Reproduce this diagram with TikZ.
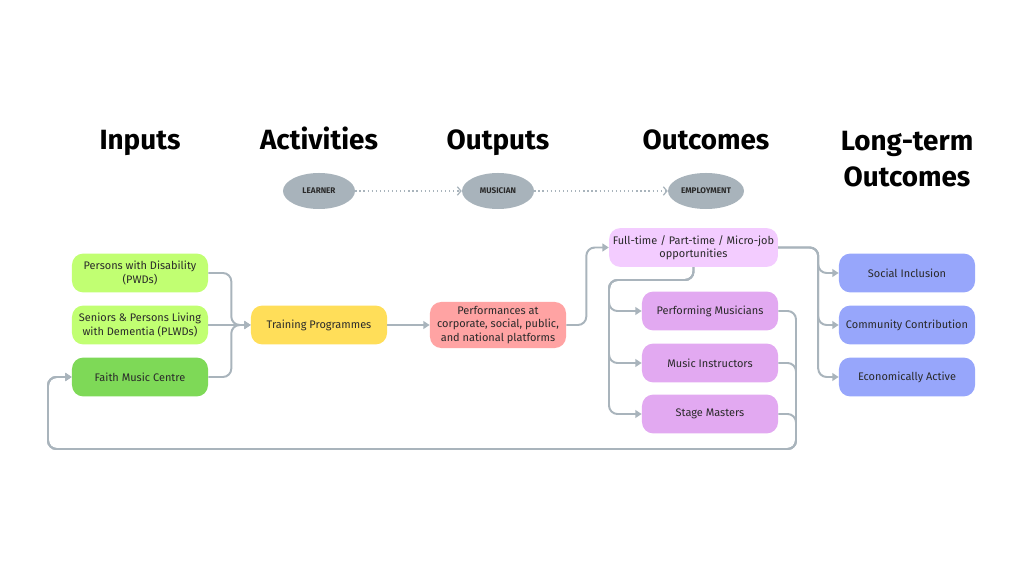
\documentclass[tikz,border=0pt]{standalone}
\usepackage{fontspec}
\setmainfont{Fira Sans}
\usetikzlibrary{arrows.meta,positioning,shapes.geometric}

\definecolor{linegray}{HTML}{A9B4BC}
\definecolor{stagegray}{HTML}{A8B3BB}
\definecolor{inputlight}{HTML}{C1FF72}
\definecolor{inputdark}{HTML}{7ED957}
\definecolor{activity}{HTML}{FFDE59}
\definecolor{output}{HTML}{FFA3A3}
\definecolor{outcomelight}{HTML}{F3CCFF}
\definecolor{outcome}{HTML}{E2A9F1}
\definecolor{longterm}{HTML}{97A6FB}
\definecolor{textdark}{HTML}{2A2A2A}

\begin{document}
\begin{tikzpicture}[x=0.025cm, y=-0.025cm]
		\def\acol{140}
		\def\bcol{319}
		\def\ccol{498}
		\def\dcol{710}
		\def\ecol{907}
		\def\arow{273}
		\def\brow{325}
		\def\crow{377}

		\tikzset{
			basic/.style={rectangle, rounded corners=8pt, align=center, text=textdark, inner sep=1pt, font=\fontsize{7.8}{9.6}\selectfont},
			smallnode/.style={basic, minimum width=3.4cm, minimum height=0.97cm},
			header/.style={font=\fontsize{19.8}{25.6}\selectfont\bfseries, align=center, text=black},
			stage/.style={ellipse, fill=stagegray, minimum width=1.8cm, minimum height=0.9cm, inner sep=0pt, font=\fontsize{5.8}{6}\selectfont\bfseries, text=textdark},
			sarrow/.style={-{Triangle[width=5.5pt,length=4.5pt]}, draw=linegray, line width=1.4pt, rounded corners=6pt},
			darrow/.style={-{Straight Barb[length=2.5pt,width=6pt]}, draw=linegray, dotted, line width=0.9pt}
		}

		\useasboundingbox (0,0) rectangle (1024,576);

		% headers

		\node[header, anchor=base] (hIn)  at (\acol,150) {Inputs};
		\node[header, anchor=base] (hAct) at (\bcol,150) {Activities};
		\node[header, anchor=base] (hOut) at (\ccol,150) {Outputs};
		\node[header, anchor=base] (hOc)  at (706,150) {Outcomes};
		\node[header] (hLt)  at (\ecol,159) {Long-term\\Outcomes};

		% stages

		\node[stage] (learner)  at (\bcol,191) {LEARNER};
		\node[stage] (musician) at (\ccol,191) {MUSICIAN};
		\node[stage, minimum width=1.9cm] (employ) at (706,191) {EMPLOYMENT};

		\draw[darrow] (learner) -- (musician);
		\draw[darrow] (musician) -- (employ);

		% boxes

		\node[smallnode, fill=inputlight] (pwd)     at (\acol,\arow) {Persons with Disability\\(PWDs)};
		\node[smallnode, fill=inputlight] (seniors) at (\acol,\brow) {Seniors \& Persons Living\\with Dementia (PLWDs)};
		\node[smallnode, fill=inputdark]  (faith)   at (\acol,\crow) {Faith Music Centre};
		\node[smallnode, fill=activity]   (train)   at (\bcol,\brow) {Training Programmes};
		\node[smallnode, fill=output, minimum height=1.15cm] (perf) at (\ccol,\brow) {Performances at\\corporate, social, public,\\and national platforms};
		\node[smallnode, fill=outcomelight, minimum width=4.22cm] (jobs) at (693.5,247.5) {Full-time / Part-time / Micro-job\\opportunities};
		\node[smallnode, fill=outcome] (perform) at (\dcol,311) {Performing Musicians};
		\node[smallnode, fill=outcome] (instr)   at (\dcol,363) {Music Instructors};
		\node[smallnode, fill=outcome] (stage)   at (\dcol,414) {Stage Masters};
		\node[smallnode, fill=longterm] (social) at (\ecol,\arow) {Social Inclusion};
		\node[smallnode, fill=longterm] (commun) at (\ecol,\brow) {Community Contribution};
		\node[smallnode, fill=longterm] (econ)   at (\ecol,\crow) {Economically Active};

		% connectors

		\coordinate (bjob) at (609,280);
		\coordinate (fb) at (796,449);
		\coordinate (fbl) at (48,449);

		\draw[sarrow] (pwd.east) -- ++(23,0) |- (train.west);
		\draw[sarrow] (seniors.east) -- (train.west);
		\draw[sarrow] (faith.east) -- ++(23,0) |- (train.west);
		\draw[sarrow] (train.east) -- (perf.west);
		\draw[sarrow] (perf.east) -- ++(20,0) |- (jobs.west);

		\foreach \n in {perform,instr,stage}
			\draw[sarrow] (jobs.south) |- (bjob) |- (\n.west);

		\foreach \n in {social,commun,econ}
			\draw[sarrow] (jobs.east) -- ++(40,0) |- (\n.west);

		% back to the centre
		\foreach \n in {perform,instr,stage}
			\draw[sarrow] (\n.east) -| (fb) -- (fbl) |- (faith.west);
\end{tikzpicture}
\end{document}
